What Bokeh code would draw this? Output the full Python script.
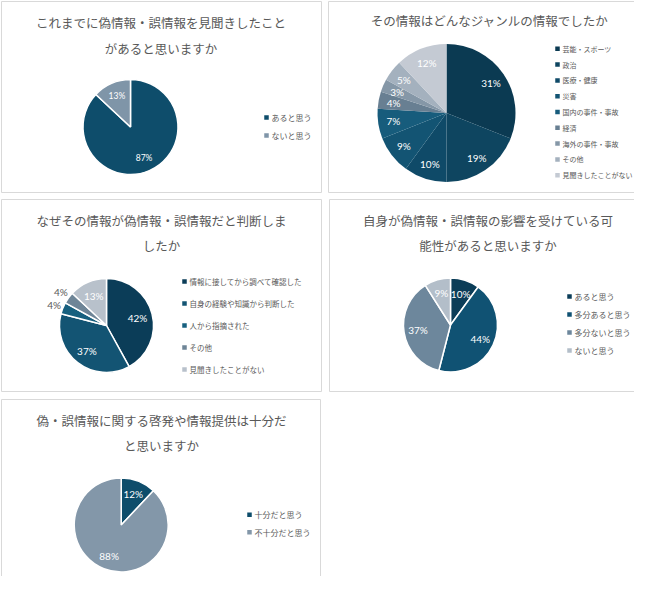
from bokeh.plotting import figure
from bokeh.models import Range1d
from bokeh.core.properties import value
from bokeh.embed import file_html
from bokeh.resources import INLINE
import math

# --- data ---
q1_title = ["これまでに偽情報・誤情報を見聞きしたこと", "があると思いますか"]
q1_labels = ["あると思う", "ないと思う"]
q1_values = [87, 13]
q1_colors = ["#0e4d6b", "#7f95a8"]

q2_title = ["その情報はどんなジャンルの情報でしたか"]
q2_labels = ["芸能・スポーツ", "政治", "医療・健康", "災害", "国内の事件・事故",
             "経済", "海外の事件・事故", "その他", "見聞きしたことがない"]
q2_values = [31, 19, 10, 9, 7, 4, 3, 5, 12]
q2_colors = ["#0b3a52", "#0e4560", "#0f4a68", "#135473", "#175c7c",
             "#687f92", "#8597a7", "#a4b1be", "#c4cad3"]

q3_title = ["なぜその情報が偽情報・誤情報だと判断しま", "したか"]
q3_labels = ["情報に接してから調べて確認した", "自身の経験や知識から判断した",
             "人から指摘された", "その他", "見聞きしたことがない"]
q3_values = [42, 37, 4, 4, 13]
q3_colors = ["#0b3d58", "#135473", "#17607f", "#6e8597", "#b8c1cb"]

q4_title = ["自身が偽情報・誤情報の影響を受けている可", "能性があると思いますか"]
q4_labels = ["あると思う", "多分あると思う", "多分ないと思う", "ないと思う"]
q4_values = [10, 44, 37, 9]
q4_colors = ["#0b3d58", "#105273", "#6d879c", "#b3bec9"]

q5_title = ["偽・誤情報に関する啓発や情報提供は十分だ", "と思いますか"]
q5_labels = ["十分だと思う", "不十分だと思う"]
q5_values = [12, 88]
q5_colors = ["#0e4d6b", "#8397a9"]

FONT = "Noto Sans CJK JP"
GRAY = "#595959"

# page coordinates: x to the right, y downward (flipped below)
H = 592


def Y(v):
    return H - v


p = figure(width=634, height=576, output_backend="svg", toolbar_location=None,
           x_range=Range1d(0, 634), y_range=Range1d(H - 576, H),
           x_axis_location=None, y_axis_location=None, min_border=0)
p.outline_line_color = None
p.grid.visible = False
p.background_fill_color = "white"


def panel(box, title, title_y, cx_title, values, labels, colors, center, r,
          lab_r, lab_size, legend_x, legend_y0, legend_step, legend_size,
          separators=True, outside=()):
    x0, y0, x1, y1 = box
    p.quad(left=[x0], right=[x1], top=[Y(y0)], bottom=[Y(y1)],
           fill_color=None, line_color="#d9d9d9", line_width=1)
    p.text(x=[cx_title] * len(title), y=[Y(t) for t in title_y], text=title,
           text_font=value(FONT), text_font_size="12.5px", text_color=GRAY,
           text_align="center", text_baseline="middle")

    total = float(sum(values))
    starts, ends, lx, ly, ltext, lcol = [], [], [], [], [], []
    cum = 0.0
    for i, v in enumerate(values):
        a0 = 90 - cum / total * 360
        a1 = a0 - v / total * 360
        starts.append(math.radians(a0))
        ends.append(math.radians(a1))
        mid = math.radians((a0 + a1) / 2)
        rr = r * (1.2 if i in outside else lab_r)
        lx.append(center[0] + rr * math.cos(mid))
        ly.append(Y(center[1]) + rr * math.sin(mid))
        ltext.append(f"{v}%")
        lcol.append(GRAY if i in outside else "white")
        cum += v
    p.wedge(x=center[0], y=Y(center[1]), radius=r, start_angle=starts,
            end_angle=ends, direction="clock", fill_color=colors,
            line_color="white" if separators else None, line_width=1.5)
    p.text(x=lx, y=ly, text=ltext, text_color=lcol, text_font=value("Lato"),
           text_font_size=lab_size, text_align="center", text_baseline="middle")

    ys = [Y(legend_y0 + i * legend_step) for i in range(len(labels))]
    p.scatter(x=[legend_x] * len(labels), y=ys, marker="square", size=4.5,
              fill_color=colors, line_color=None)
    p.text(x=[legend_x + 5] * len(labels), y=ys, text=labels,
           text_font=value(FONT), text_font_size=legend_size, text_color=GRAY,
           text_align="left", text_baseline="middle")


panel((1, 1, 321, 192), q1_title, [22, 48], 160.5, q1_values, q1_labels,
      q1_colors, (130, 126.5), 47.5, 0.72, "8.5px", 266, 117, 18, "8px")
# right-hand legends pulled in a little so they fit the 634px page
panel((328, 1, 648, 192), q2_title, [20], 489, q2_values, q2_labels,
      q2_colors, (446, 112.5), 69, 0.78, "10px", 557, 48.3, 15.8, "7px",
      separators=False)
panel((1, 199, 321, 391), q3_title, [220, 245], 161, q3_values, q3_labels,
      q3_colors, (106, 325), 47, 0.68, "10px", 184, 281, 22, "7.5px",
      outside=(2, 3))
panel((329, 199, 647, 391), q4_title, [220, 245], 487.5, q4_values, q4_labels,
      q4_colors, (450, 324.5), 47, 0.7, "10px", 569, 296, 18, "8px")
panel((1, 399, 320, 591), q5_title, [420, 445], 161, q5_values, q5_labels,
      q5_colors, (120.7, 524.5), 47, 0.7, "10px", 249, 514.3, 17.5, "8px")

open("out.html", "w").write(file_html(p, INLINE))
